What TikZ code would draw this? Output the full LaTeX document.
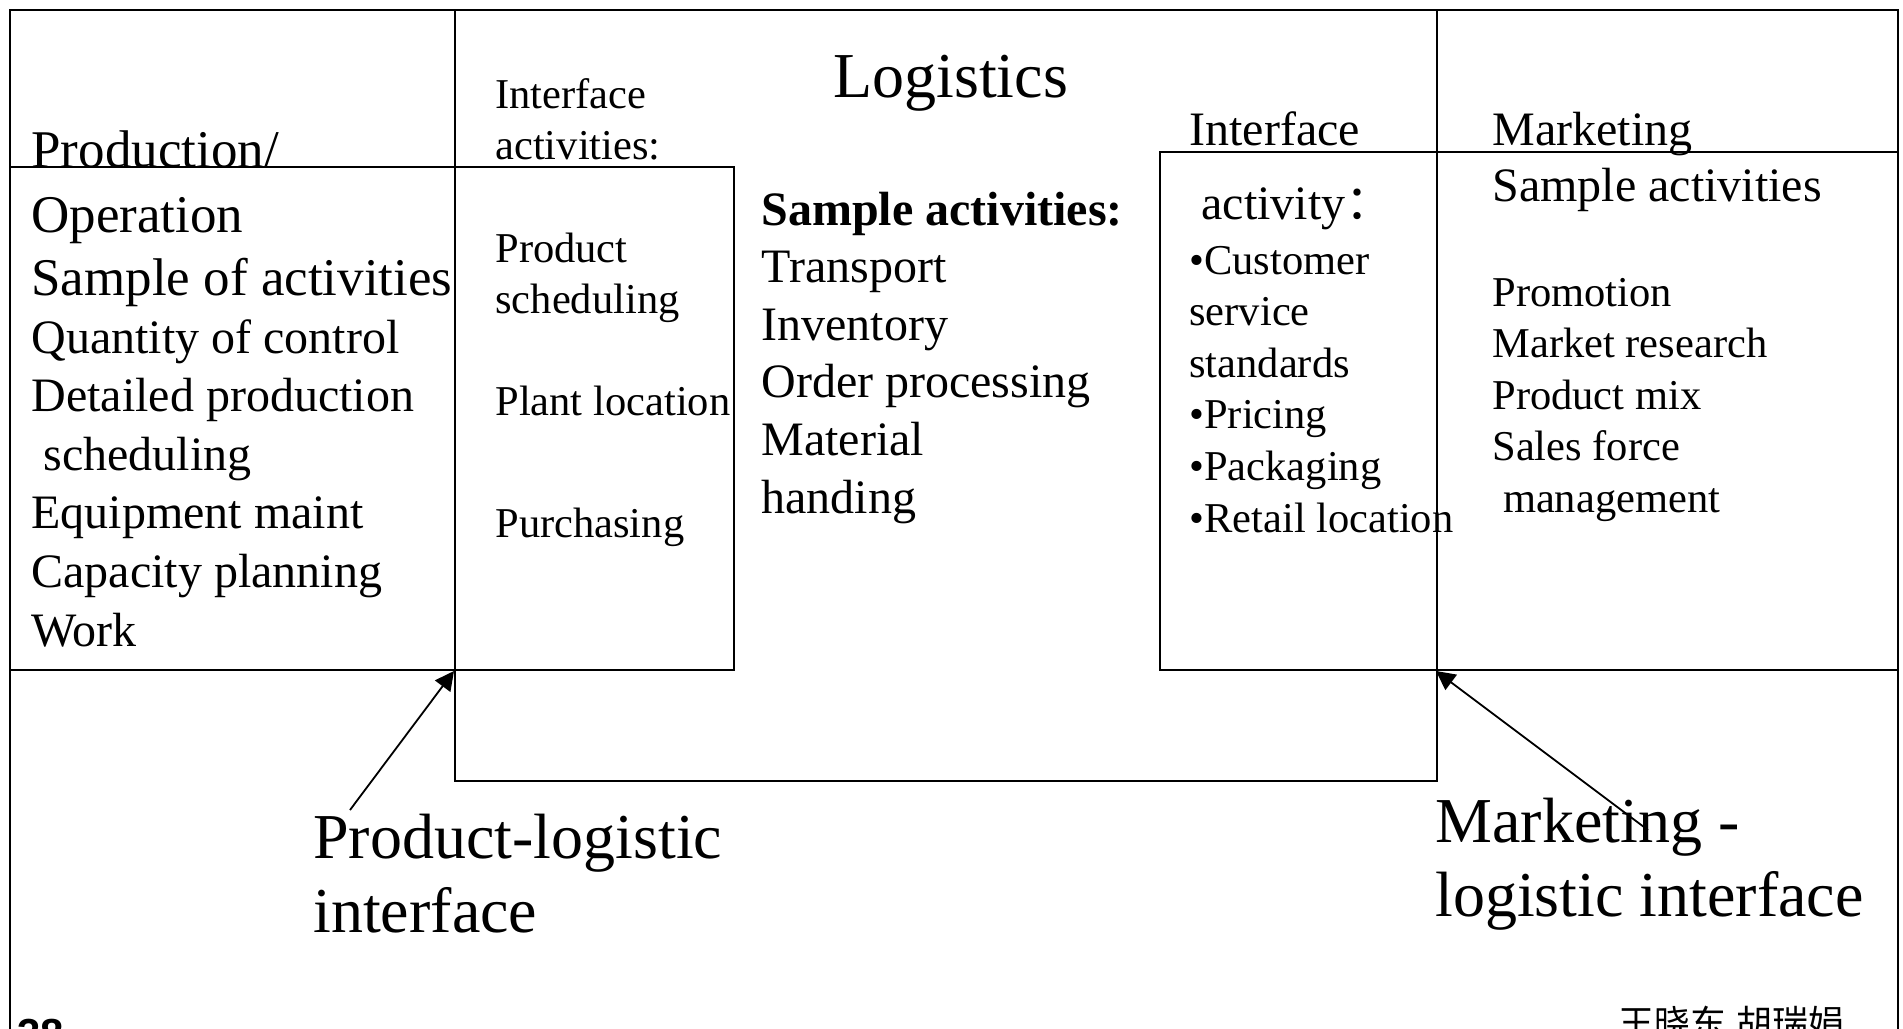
\documentclass[tikz,border=0pt]{standalone}
\usepackage{fontspec}
\setmainfont{Liberation Serif}
\newfontfamily\cjkfont{Noto Sans CJK SC}
\newfontfamily\pagefont{Liberation Sans}
\usepackage{tikz}
\usetikzlibrary{calc, fit, positioning, arrows.meta, backgrounds}
\newcommand{\textlines}[1]{\begin{tabular}[t]{@{}l@{}}#1\end{tabular}}
\tikzset{
    boxnode/.style = {draw, rectangle, fill=none, inner sep=0em, line width=1pt},
    slideframe/.style = {line width=1.1pt},
    textnode/.style = {draw=none, fill=none, rectangle, inner sep=0em, anchor=base west},
    hugetext/.style = {textnode, font=\fontsize{32}{37}\selectfont},
    bigtext/.style = {textnode, font=\fontsize{26.5}{31.5}\selectfont},
    listtext/.style = {textnode, font=\fontsize{24}{29.3}\selectfont},
    midtext/.style = {textnode, font=\fontsize{24}{28.8}\selectfont},
    smalltext/.style = {textnode, font=\fontsize{21.25}{25.8}\selectfont},
    connect/.style = {black, line width=0.9pt, -{Triangle[length=9.5pt, width=9.5pt]}}
}

\begin{document}
\begin{tikzpicture}[x=0.5pt, y=-0.5pt]
    \useasboundingbox (0,0) rectangle (1903,1029);
    \clip (0,0) rectangle (1903,1029);

    \draw[slideframe] (10,1040) -- (10,10) -- (1898,10) -- (1898,1040);

    \node[boxnode, name=LogBox, fit={(455,10) (1437,781)}] {};
    \node[boxnode, name=ProdBox, fit={(10,167) (455,670)}] {};
    \node[boxnode, name=ProdIface, fit={(455,167) (734,670)}] {};
    \node[boxnode, name=MarkIface, fit={(1160,152) (1437,670)}] {};
    \node[boxnode, name=MarkBox, fit={(1437,152) (1898,670)}] {};

    \node[bigtext, name=ProdTitle] at (31,167) {Production/};
    \node[bigtext, name=ProdHead] at (31,232) {\textlines{Operation\\Sample of activities}};
    \node[listtext, name=ProdList] at (31,353) {\textlines{Quantity of control\\Detailed production\\ \ scheduling\\Equipment maint\\Capacity planning\\Work}};

    \node[smalltext, name=IfaceLTitle] at (495,108) {\textlines{Interface\\activities:}};
    \node[smalltext, name=ProdSched] at (495,262) {\textlines{Product\\scheduling}};
    \node[smalltext, name=PlantLoc] at (495,415) {Plant location};
    \node[smalltext, name=Purchase] at (495,537) {Purchasing};

    \node[hugetext, name=LogTitle] at (833,97) {Logistics};
    \node[midtext, name=LogList] at (761,225) {\textlines{\textbf{Sample activities:}\\Transport\\Inventory\\Order processing\\Material\\handing}};

    \node[midtext, name=IfaceRTitle] at (1189,145) {Interface};
    \node[midtext, name=IfaceRSub] at (1189,219) {\ activity{\cjkfont ：}};
    \node[smalltext, name=IfaceRList] at (1189,274) {\textlines{•Customer\\service\\standards\\•Pricing\\•Packaging\\•Retail location}};

    \node[midtext, name=MarkTitle] at (1492,145) {Marketing};
    \node[midtext, name=MarkSub] at (1492,201) {Sample activities};
    \node[smalltext, name=MarkList] at (1492,306) {\textlines{Promotion\\Market research\\Product mix\\Sales force\\ \ management}};

    \node[hugetext, name=ProdLabel] at (313,858) {\textlines{Product-logistic\\interface}};
    \node[hugetext, name=MarkLabel] at (1435,842) {\textlines{Marketing -\\logistic interface}};

    \coordinate (ProdTail) at (350,810);
    \coordinate (MarkTail) at (1648,830);
    \draw[connect] (ProdTail) -- (ProdIface.south west);
    \draw[connect] (MarkTail) -- (MarkBox.south west);

    \node[textnode, name=PageNo, font=\pagefont\bfseries\fontsize{21}{25}\selectfont] at (17,1048) {38};
    \node[textnode, name=Authors, font=\cjkfont\fontsize{18}{22}\selectfont] at (1618,1036) {王晓东,胡瑞娟};
\end{tikzpicture}
\end{document}
